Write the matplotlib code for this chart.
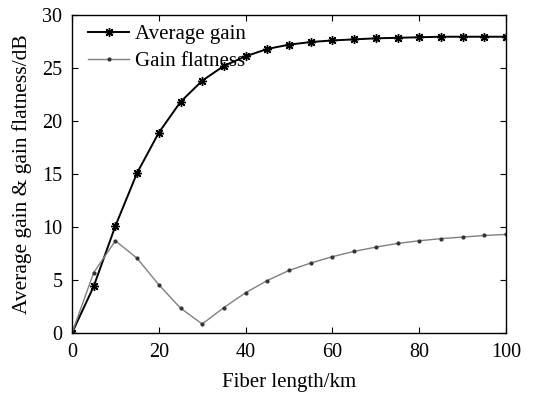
import matplotlib
matplotlib.use("Agg")
import matplotlib.pyplot as plt

length_km = [0, 5, 10, 15, 20, 25, 30, 35, 40, 45, 50, 55, 60, 65, 70, 75, 80, 85, 90, 95, 100]
avg_gain = [0, 4.4, 10.1, 15.1, 18.9, 21.8, 23.8, 25.2, 26.1, 26.8, 27.2, 27.45, 27.6, 27.7,
            27.8, 27.85, 27.9, 27.95, 27.95, 27.95, 27.95]
flatness = [0, 5.7, 8.7, 7.05, 4.55, 2.35, 0.85, 2.4, 3.8, 4.95, 5.9, 6.6, 7.2, 7.7,
            8.1, 8.45, 8.7, 8.9, 9.05, 9.2, 9.3]

plt.rcParams["font.family"] = ["Liberation Serif", "DejaVu Serif"]

fig = plt.figure(figsize=(5.48, 3.95), dpi=100)
ax = fig.add_axes([72 / 548, 1 - 333 / 395, (506 - 72) / 548, (333 - 15) / 395])

ax.plot(length_km, avg_gain, color="black", lw=1.4, marker=(8, 2, 0), ms=6.5, mew=1.0,
        label="Average gain")
ax.plot(length_km, flatness, color="#808080", lw=1.0, marker="o", ms=2,
        mfc="#333333", mec="#333333", label="Gain flatness")

ax.set_xlim(0, 100)
ax.set_ylim(0, 30)
ax.set_xticks(range(0, 101, 20))
ax.set_yticks(range(0, 31, 5))
ax.tick_params(direction="in", top=True, right=True, labelsize=14.5, length=4, pad=7)
ax.set_xlabel("Fiber length/km", fontsize=15, labelpad=8)
ax.set_ylabel("Average gain & gain flatness/dB", fontsize=15.5, labelpad=7)
for s in ax.spines.values():
    s.set_linewidth(1.0)

ax.legend(loc="upper left", bbox_to_anchor=(0.016, 1.0), frameon=False, fontsize=15,
          handlelength=1.95, borderaxespad=0.05, labelspacing=0.35, handletextpad=0.3)

fig.savefig("out.png", dpi=100)
